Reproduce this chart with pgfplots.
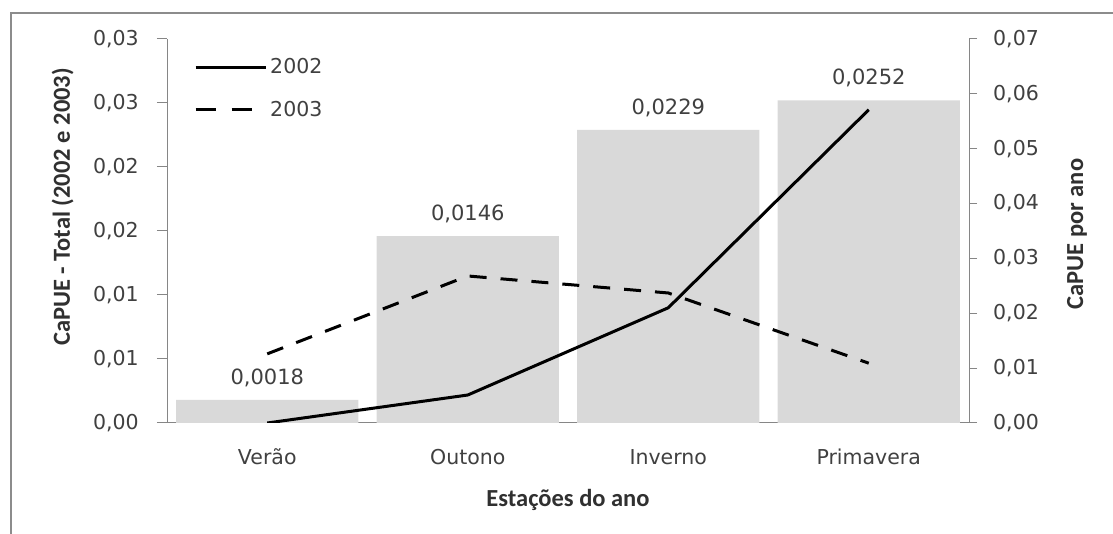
\documentclass[border=0pt]{standalone}
\usepackage{pgfplots}
\pgfplotsset{compat=1.18}
\usepackage{fontspec}
\setmainfont{DejaVu Sans}
\newfontfamily\titlefont{Carlito}

\definecolor{barfill}{HTML}{D9D9D9}
\definecolor{axisgray}{HTML}{868686}
\definecolor{ticktext}{HTML}{404040}
\definecolor{titletext}{HTML}{303030}
\definecolor{framegray}{HTML}{8C8C8C}

% CaPUE total por estacao (eixo esquerdo)
\pgfplotstableread{
idx total
0 0.0018
1 0.0146
2 0.0229
3 0.0252
}\totaldata

% CaPUE por ano (eixo direito)
\pgfplotstableread{
idx y2002 y2003
0 0.0000 0.0126
1 0.0051 0.0268
2 0.0210 0.0237
3 0.0571 0.0109
}\yeardata

\newcommand{\tickfont}{\fontsize{20.5}{24}\selectfont}
\newcommand{\labfont}{\titlefont\bfseries\fontsize{24.5}{28}\selectfont}

\begin{document}
\begin{tikzpicture}
\useasboundingbox (0pt,0pt) rectangle (1113pt,534pt);
\draw[framegray, line width=2pt] (11pt,-20pt) -- (11pt,521pt) -- (1140pt,521pt);

\pgfplotsset{
  common/.style={
    at={(167pt,111pt)}, anchor=south west,
    scale only axis, width=802pt, height=384pt,
    xmin=-0.5, xmax=3.5,
    axis line style={-, axisgray, line width=1pt},
    tick align=outside,
    major tick length=10pt,
    every tick/.style={axisgray, line width=1pt},
    tick label style={font=\tickfont, text=ticktext},
    scaled y ticks=false,
    /pgf/number format/assume math mode=true,
  }
}

\begin{axis}[
  common,
  ymin=0, ymax=0.03,
  axis x line*=bottom, axis y line*=left,
  xtick={0,1,2,3},
  xticklabels={Verão,Outono,Inverno,Primavera},
  major x tick style={draw=none},
  xticklabel style={anchor=center, inner sep=0pt, yshift=-24pt},
  ytick={0,0.005,0.01,0.015,0.02,0.025,0.03},
  yticklabels={{0,00},{0,01},{0,01},{0,02},{0,02},{0,03},{0,03}},
  yticklabel style={anchor=east, inner sep=0pt, xshift=-18pt},
  xlabel={Estações do ano},
  ylabel={CaPUE - Total (2002 e 2003)},
  label style={font=\labfont, text=titletext},
  xlabel style={at={(rel axis cs:0.5,-0.2005)}, anchor=center},
  ylabel style={at={(rel axis cs:-0.13,0.5625)}, anchor=center, rotate=0},
]
\addplot[ybar, bar width=0.908, fill=barfill, draw=none,
  nodes near coords,
  every node near coord/.append style={font=\fontsize{21}{24}\selectfont,
    text=ticktext, anchor=base, inner sep=0pt, yshift=15.5pt},
  /pgf/number format/.cd, fixed, fixed zerofill, precision=4, use comma]
  table[x=idx, y=total] {\totaldata};
\end{axis}

\begin{axis}[
  common,
  ymin=0, ymax=0.07,
  axis x line=none, axis y line*=right,
  major tick length=8pt,
  ytick={0,0.01,0.02,0.03,0.04,0.05,0.06,0.07},
  yticklabels={{0,00},{0,01},{0,02},{0,03},{0,04},{0,05},{0,06},{0,07}},
  yticklabel style={anchor=west, inner sep=0pt, xshift=16pt},
  ylabel={CaPUE por ano},
  ylabel style={font=\labfont, text=titletext, at={(rel axis cs:1.1347,0.492)}, anchor=center},
  legend image code/.code={\draw[#1] (0pt,0pt) -- (70pt,0pt);},
  legend style={at={(rel axis cs:0.0337,0.957)}, anchor=north west,
    draw=none, fill=none, inner sep=0pt, row sep=20pt,
    font=\tickfont, text=ticktext, nodes={inner sep=3pt}},
  legend cell align=left,
]
\addlegendimage{black, line width=3pt}
\addlegendimage{black, line width=3pt, dash pattern=on 20pt off 16pt}
\addplot[black, line width=3pt, forget plot] table[x=idx, y=y2002] {\yeardata};
\addplot[black, line width=3pt, dash pattern=on 17pt off 14pt, forget plot] table[x=idx, y=y2003] {\yeardata};
\legend{2002, 2003}
\end{axis}
\end{tikzpicture}
\end{document}
